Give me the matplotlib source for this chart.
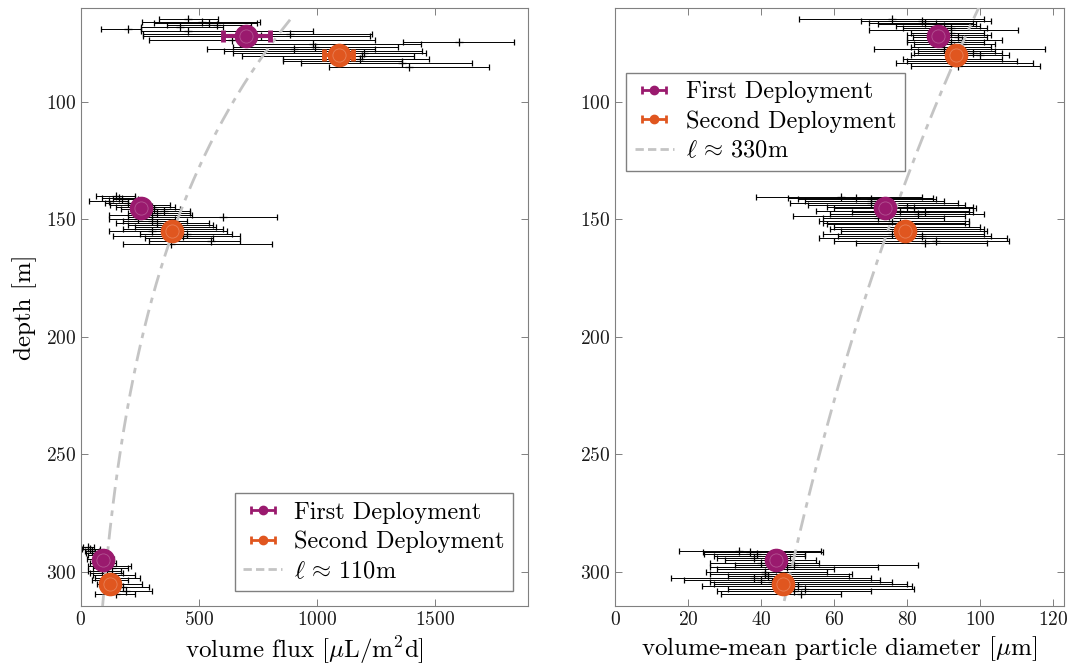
import numpy as np
import matplotlib
matplotlib.use("Agg")
import matplotlib.pyplot as plt

plt.rcParams.update({
    "font.family": "serif",
    "font.serif": ["cmr10"],
    "mathtext.fontset": "cm",
    "axes.formatter.use_mathtext": True,
    "axes.unicode_minus": False,
})

MAGENTA = "#9a1a6e"
ORANGE = "#e0561f"
GREY = "#c4c4c4"

# ---- volume flux, individual samples (depth, lower, value, upper) ----
flux_first_depth = [64.8, 65.8, 66.5, 67.3, 68.0, 69.0, 70.0, 71.0, 72.0, 73.5,
                    140.0, 140.8, 141.5, 142.3, 143.0, 144.0, 144.8, 145.5, 146.5, 147.3, 148.0, 149.0,
                    289.5, 290.3, 291.0, 292.0, 293.0, 294.5, 296.0, 297.5, 298.5]
flux_first_lo = [330, 258, 309, 363, 254, 85, 254, 264, 264, 288,
                 63, 90, 137, 35, 100, 125, 150, 170, 230, 200, 120, 200,
                 10, 5, 15, 20, 30, 25, 40, 30, 50]
flux_first_val = [455, 513, 540, 575, 420, 200, 455, 885, 760, 640,
                  150, 160, 175, 120, 200, 230, 300, 310, 350, 320, 300, 603,
                  30, 40, 45, 60, 70, 90, 100, 110, 130]
flux_first_hi = [582, 758, 745, 720, 600, 254, 984, 1231, 1222, 1246,
                 229, 230, 240, 200, 270, 377, 400, 420, 460, 462, 470, 829,
                 55, 80, 75, 100, 120, 140, 150, 210, 200]

flux_second_depth = [74.5, 75.5, 76.5, 77.5, 78.5, 79.3, 80.5, 81.5, 82.5, 83.5, 85.0,
                     149.8, 150.8, 151.7, 152.5, 153.3, 154.2, 155.0, 156.0, 157.0, 158.0, 159.0, 160.5,
                     299.5, 300.5, 301.5, 302.5, 303.5, 305.0, 306.5, 308.0, 309.5]
flux_second_lo = [1363, 674, 643, 532, 606, 643, 680, 854, 854, 930, 1048,
                  120, 180, 150, 200, 230, 180, 120, 250, 137, 270, 290, 180,
                  30, 40, 50, 60, 45, 70, 90, 110, 60]
flux_second_val = [1599, 984, 990, 900, 1080, 1200, 1190, 1180, 1100, 1360, 1390,
                   240, 300, 320, 380, 420, 350, 300, 450, 430, 390, 550, 380,
                   90, 110, 130, 140, 120, 160, 180, 190, 150]
flux_second_hi = [1831, 1440, 1342, 1246, 1443, 1460, 1408, 1472, 1360, 1655, 1725,
                  400, 450, 540, 560, 570, 600, 620, 640, 674, 560, 674, 808,
                  170, 180, 230, 250, 200, 260, 290, 300, 230]

# ---- particle diameter, individual samples ----
diam_first_depth = [64.7, 65.5, 66.3, 67.0, 67.8, 68.5, 69.5, 70.5, 71.5, 72.5, 73.5, 74.5,
                    140.3, 140.8, 141.5, 142.2, 143.0, 143.8, 144.5, 145.3, 146.2, 147.0, 147.8, 148.7, 149.5,
                    290.9, 291.7, 292.5, 293.3, 294.2, 295.0, 296.0, 297.0, 298.0, 298.8]
diam_first_lo = [50.5, 67.5, 69.6, 72, 77, 79, 69.6, 81, 80, 81.6, 80, 80,
                 38.5, 47.3, 50, 52, 48, 53, 58, 60, 55, 65, 59, 48.7, 57,
                 17.6, 24, 24.5, 27, 28, 30, 26, 33, 26, 28]
diam_first_val = [76, 84, 85, 88, 90, 92, 89, 92, 90, 94, 95, 92,
                  62, 66, 70, 72, 70, 75, 80, 82, 78, 85, 83, 75, 72,
                  34, 37, 39, 44, 38, 44, 40, 49, 47, 44]
diam_first_hi = [101, 103, 98, 99, 100, 102, 110.5, 101, 103, 102, 106, 101,
                 84, 87, 88, 90, 94, 96, 98, 99, 97, 98, 101, 96, 90,
                 56.5, 57, 52, 52, 48, 55, 56, 83, 72, 60]

diam_second_depth = [75.5, 76.5, 77.5, 78.3, 79.3, 80.0, 81.5, 82.5, 83.5, 84.8,
                     150.5, 151.3, 152.0, 153.0, 154.0, 155.0, 156.0, 157.0, 158.0, 159.0, 160.0,
                     300.0, 300.8, 301.7, 302.5, 303.3, 304.2, 305.0, 306.2, 307.2, 308.2, 309.5]
diam_second_lo = [82, 81, 71, 83, 82, 81, 79, 80, 77, 81,
                  56, 57, 58, 60, 59, 62, 57, 61, 56, 60, 66,
                  25, 26, 31, 15.3, 19, 26, 27, 23.9, 31, 28, 29]
diam_second_val = [95, 93, 90, 96, 98, 100, 93, 95, 92, 94,
                   76, 78, 80, 78, 79, 82, 76, 84, 80, 88, 85,
                   41, 41, 42, 38, 40, 43, 45, 50, 52, 49, 51]
diam_second_hi = [104, 103, 117.9, 104, 106, 108, 106, 110, 114.6, 116.5,
                  97, 96, 97, 100, 101, 102, 101, 103, 107.5, 108, 102,
                  58, 65, 64, 70, 72.5, 76, 80, 81.5, 82, 70, 62]

# ---- deployment means ----
mean_depth_first = [72, 145, 295]
mean_depth_second = [80, 155, 305]
flux_mean_first = [700, 255, 95]
flux_err_first = [98, 15, 8]
flux_mean_second = [1090, 385, 125]
flux_err_second = [60, 15, 8]
diam_mean_first = [88.5, 74, 44]
diam_mean_second = [93.5, 79.5, 46]
diam_err = [1.0, 1.0, 1.0]

# ---- attenuation fits ----
flux_ref, flux_z0, flux_ell = 885, 65, 110
diam_ref, diam_z0, diam_ell = 99, 62, 330

fig = plt.figure(figsize=(10.78, 6.71), dpi=100)
ax1 = fig.add_axes([0.0751, 0.0969, 0.4147, 0.8912])
ax2 = fig.add_axes([0.5705, 0.0969, 0.4165, 0.8912])


def samples(ax, d, lo, v, hi):
    d, lo, v, hi = map(np.asarray, (d, lo, v, hi))
    ax.errorbar(v, d, xerr=[v - lo, hi - v], fmt="+", color="k", ms=6, mew=0.9,
                elinewidth=0.7, capsize=2.5, capthick=1.5, zorder=2)


def means(ax, x, y, err, color):
    ax.errorbar(x, y, xerr=err, fmt="o", ms=16, color=color, mec=color,
                elinewidth=3, capsize=4, capthick=3.5, zorder=5)
    ax.plot(x, y, "o", ms=9.5, mfc="none", mec=(1, 1, 1, 0.25), mew=0.6, zorder=6)


def proxy(ax, color):
    return ax.errorbar([np.nan], [np.nan], xerr=[[1], [1]], fmt="o", ms=6, color=color,
                       elinewidth=2, capsize=3, capthick=2)


legend_kw = dict(fontsize=17.5, fancybox=False, framealpha=1, edgecolor="#808080",
                 handlelength=1.6, handletextpad=0.5, borderpad=0.35, labelspacing=0.3)

# left panel
samples(ax1, flux_first_depth, flux_first_lo, flux_first_val, flux_first_hi)
samples(ax1, flux_second_depth, flux_second_lo, flux_second_val, flux_second_hi)
z = np.linspace(flux_z0, 316, 200)
ax1.plot(flux_ref * np.exp(-(z - flux_z0) / flux_ell), z, color=GREY, lw=2,
         ls=(0, (6, 2.5, 2, 2.5)), zorder=3)
means(ax1, flux_mean_first, mean_depth_first, flux_err_first, MAGENTA)
means(ax1, flux_mean_second, mean_depth_second, flux_err_second, ORANGE)
h1 = proxy(ax1, MAGENTA)
h2 = proxy(ax1, ORANGE)
fit1_leg, = ax1.plot([], [], color=GREY, lw=2, ls=(0, (3, 1.5)))
ax1.set_xlim(0, 1892)
ax1.set_xticks([0, 500, 1000, 1500])
ax1.set_xlabel(r"volume flux [$\mu$L/m$^2$d]", fontsize=18)
ax1.set_ylabel("depth [m]", fontsize=18, labelpad=6)
ax1.legend([h1, h2, fit1_leg],
           ["First Deployment", "Second Deployment", r"$\ell \,\approx\, 110$m"],
           loc="lower right", borderaxespad=0.6, **legend_kw)

# right panel
samples(ax2, diam_first_depth, diam_first_lo, diam_first_val, diam_first_hi)
samples(ax2, diam_second_depth, diam_second_lo, diam_second_val, diam_second_hi)
z = np.linspace(58, 316, 200)
ax2.plot(diam_ref * np.exp(-(z - diam_z0) / diam_ell), z, color=GREY, lw=2,
         ls=(0, (6, 2.5, 2, 2.5)), zorder=3)
means(ax2, diam_mean_first, mean_depth_first, diam_err, MAGENTA)
means(ax2, diam_mean_second, mean_depth_second, diam_err, ORANGE)
g1 = proxy(ax2, MAGENTA)
g2 = proxy(ax2, ORANGE)
fit2_leg, = ax2.plot([], [], color=GREY, lw=2, ls=(0, (3, 1.5)))
ax2.set_xlim(0, 123)
ax2.set_xticks(np.arange(0, 121, 20))
ax2.set_xlabel(r"volume-mean particle diameter [$\mu$m]", fontsize=18)
ax2.legend([g1, g2, fit2_leg],
           ["First Deployment", "Second Deployment", r"$\ell \,\approx\, 330$m"],
           loc="upper left", bbox_to_anchor=(0.025, 0.892), borderaxespad=0.0, **legend_kw)

for ax in (ax1, ax2):
    ax.set_ylim(314.5, 60)
    ax.set_yticks([100, 150, 200, 250, 300])
    ax.tick_params(direction="in", top=True, right=True, length=5, width=0.7,
                   labelsize=14, color="#808080", labelcolor="#1a1a1a")
    for s in ax.spines.values():
        s.set_color("#808080")
        s.set_linewidth(0.8)

fig.savefig("out.png", dpi=100)
